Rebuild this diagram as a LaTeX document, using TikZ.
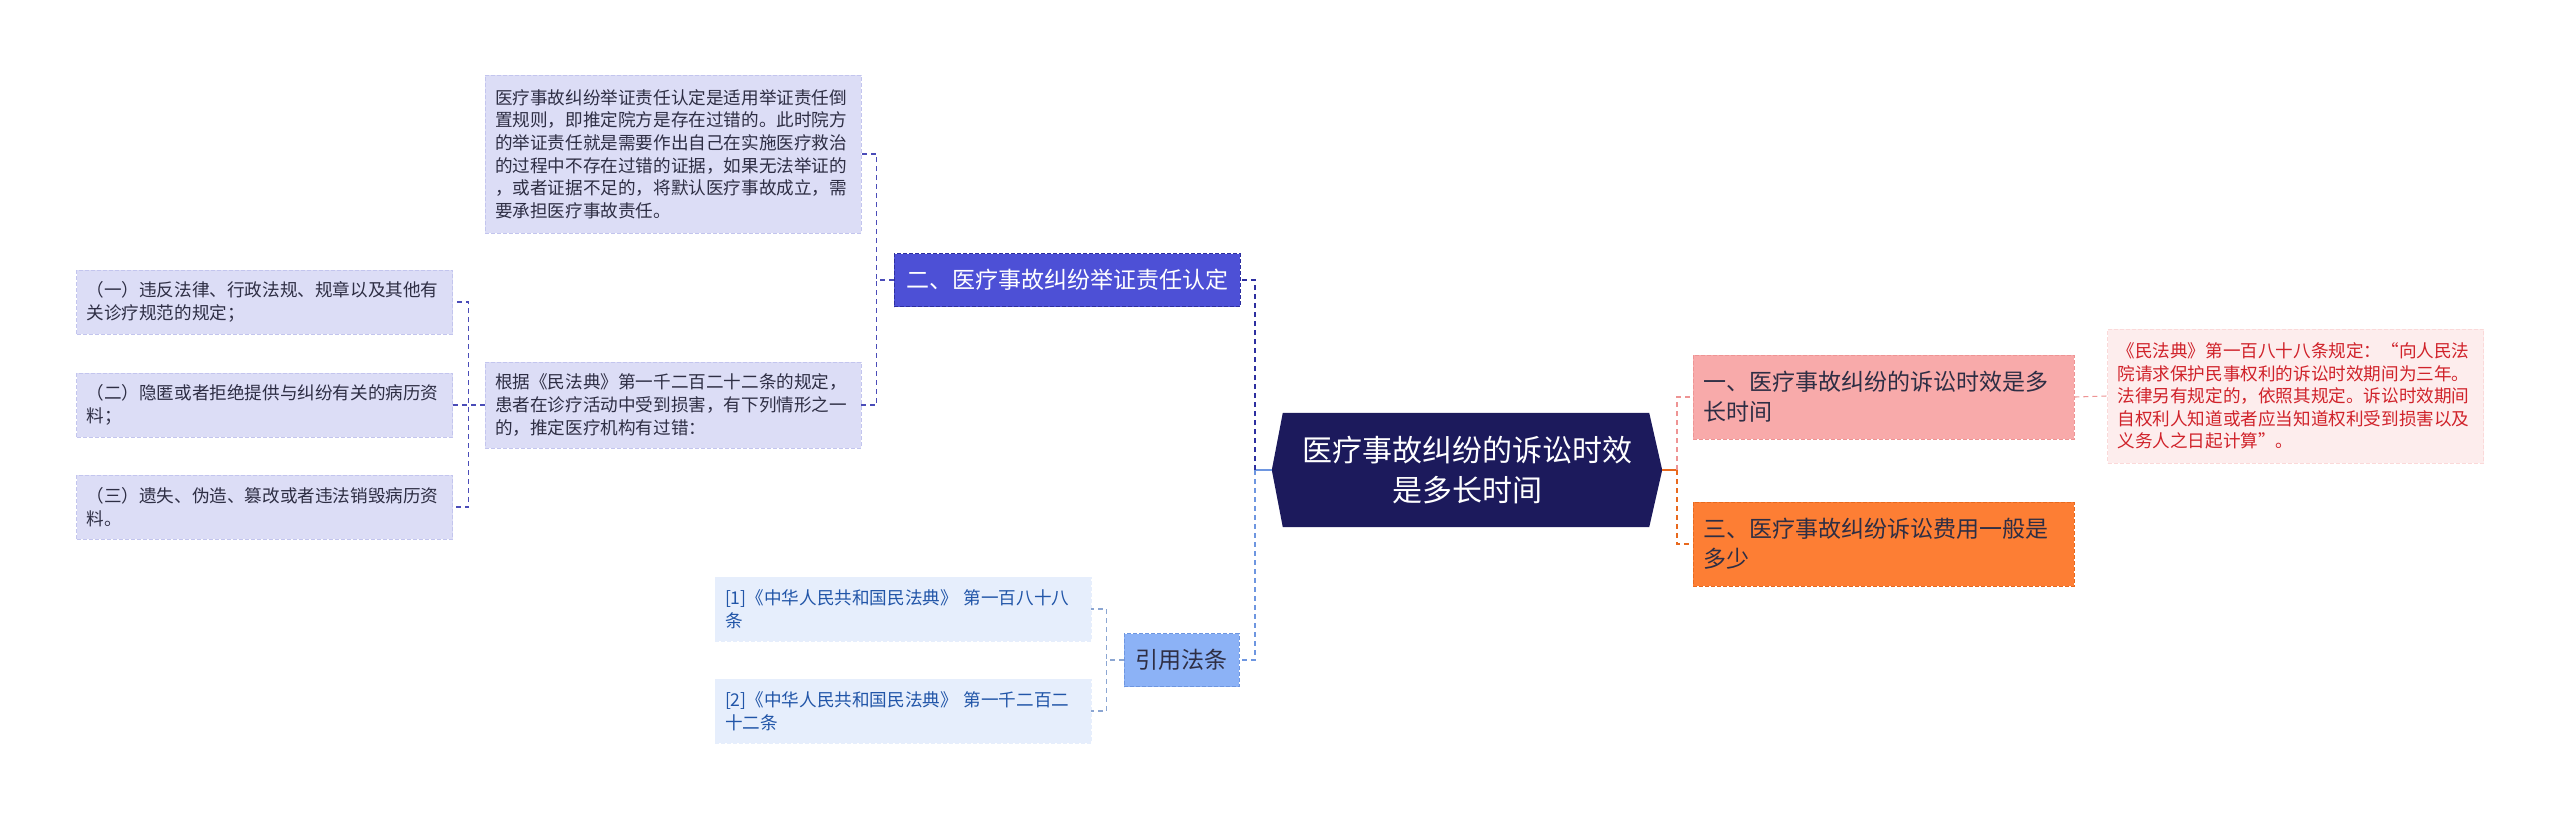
\documentclass[tikz,border=0pt]{standalone}
\usepackage{fontspec}
\setmainfont{Noto Sans CJK SC}
\usetikzlibrary{backgrounds}

\definecolor{navy}{HTML}{1C1A5C}
\definecolor{lav}{HTML}{DCDDF6}
\definecolor{lavline}{HTML}{C3C5EE}
\definecolor{lavlink}{HTML}{4A4CB8}
\definecolor{indigo}{HTML}{4D50D6}
\definecolor{indigoline}{HTML}{2D2FA0}
\definecolor{skyfill}{HTML}{8CB2F6}
\definecolor{skyline}{HTML}{6E96E0}
\definecolor{icefill}{HTML}{E6EEFC}
\definecolor{iceline}{HTML}{8CA6D2}
\definecolor{icetext}{HTML}{2155A8}
\definecolor{rosefill}{HTML}{F8AAAA}
\definecolor{roseline}{HTML}{EE9494}
\definecolor{blushfill}{HTML}{FDEDED}
\definecolor{notered}{HTML}{D0222A}
\definecolor{tangerine}{HTML}{FD7E34}
\definecolor{tangline}{HTML}{E8691E}
\definecolor{ink}{HTML}{2E2E44}

\tikzset{
  box/.style={rectangle, inner xsep=10pt, inner ysep=0pt, align=left,
    dash pattern=on 4pt off 2pt, line width=0.8pt},
  leaf/.style={box, text width=356pt, minimum height=#1,
    font=\fontsize{17.6}{22.6}\selectfont},
  topic/.style={box, text width=361pt, minimum height=#1, text=ink,
    font=\fontsize{23}{30}\selectfont},
  lnk/.style={dash pattern=on 5pt off 4pt, line width=1.6pt},
  thinlnk/.style={dash pattern=on 5pt off 4pt, line width=1.1pt},
}

\begin{document}
\begin{tikzpicture}[x=1pt, y=-1pt]

  \useasboundingbox (0,0) rectangle (2560,820);

  %--- Root ---
  \node[text=white, align=center, minimum width=390pt, minimum height=114pt,
        inner sep=0pt, font=\fontsize{30}{40}\selectfont]
        (root) at (1467,470) {医疗事故纠纷的诉讼时效\\是多长时间};
  \begin{scope}[on background layer]
    \fill[white] (0,0) rectangle (2560,820);
    \fill[navy] (root.west) -- ([xshift=11pt]root.north west)
      -- ([xshift=-13pt]root.north east) -- (root.east)
      -- ([xshift=-13pt]root.south east) -- ([xshift=11pt]root.south west) -- cycle;
  \end{scope}

  %--- Branch 2: burden of proof ---
  \node[box, fill=indigo, draw=indigoline, text=white, minimum width=346pt,
        minimum height=53pt, align=center, font=\fontsize{23}{30}\selectfont]
        (proof) at (1067,280) {二、医疗事故纠纷举证责任认定};
  \node[leaf=158pt, fill=lav, draw=lavline, text=ink] (proofnote) at (673,154)
        {医疗事故纠纷举证责任认定是适用举证责任倒\\
         置规则，即推定院方是存在过错的。此时院方\\
         的举证责任就是需要作出自己在实施医疗救治\\
         的过程中不存在过错的证据，如果无法举证的\\
         ，或者证据不足的，将默认医疗事故成立，需\\
         要承担医疗事故责任。};
  \node[leaf=86pt, fill=lav, draw=lavline, text=ink] (rule) at (673,405)
        {根据《民法典》第一千二百二十二条的规定，\\
         患者在诊疗活动中受到损害，有下列情形之一\\
         的，推定医疗机构有过错：};
  \node[leaf=64pt, fill=lav, draw=lavline, text=ink] (case1) at (264.5,302)
        {（一）违反法律、行政法规、规章以及其他有\\关诊疗规范的规定；};
  \node[leaf=64pt, fill=lav, draw=lavline, text=ink] (case2) at (264.5,405)
        {（二）隐匿或者拒绝提供与纠纷有关的病历资\\料；};
  \node[leaf=64pt, fill=lav, draw=lavline, text=ink] (case3) at (264.5,507)
        {（三）遗失、伪造、篡改或者违法销毁病历资\\料。};

  %--- Branch: cited articles ---
  \node[box, fill=skyfill, draw=skyline, text=ink, minimum width=115pt,
        minimum height=53pt, align=center, font=\fontsize{23}{30}\selectfont]
        (cite) at (1181.5,660) {引用法条};
  \node[leaf=64pt, fill=icefill, draw=icefill, text=icetext] (ref1) at (903,609)
        {[1]《中华人民共和国民法典》 第一百八十八\\条};
  \node[leaf=64pt, fill=icefill, draw=icefill, text=icetext] (ref2) at (903,711)
        {[2]《中华人民共和国民法典》 第一千二百二\\十二条};

  %--- Right side ---
  \node[topic=84pt, fill=rosefill, draw=roseline] (limit) at (1883.5,397)
        {一、医疗事故纠纷的诉讼时效是多\\长时间};
  \node[topic=84pt, fill=tangerine, draw=tangline] (cost) at (1883.5,544)
        {三、医疗事故纠纷诉讼费用一般是\\多少};
  \node[leaf=134pt, fill=blushfill, draw=blushfill!70!rosefill, text=notered]
        (limitnote) at (2295.5,396)
        {《民法典》第一百八十八条规定：“向人民法\\
         院请求保护民事权利的诉讼时效期间为三年。\\
         法律另有规定的，依照其规定。诉讼时效期间\\
         自权利人知道或者应当知道权利受到损害以及\\
         义务人之日起计算”。};

  %--- Connectors ---
  \draw[line width=1.6pt, skyline] (root.west) -- ++(-17,0);
  \draw[lnk, indigoline] (root.west) ++(-17,0) |- (proof.east);
  \draw[lnk, skyline] (root.west) ++(-17,0) |- (cite.east);
  \draw[line width=1.6pt, tangline] (root.east) -- ++(15,0);
  \draw[lnk, roseline] (root.east) ++(15,0) |- (limit.west);
  \draw[lnk, tangline] (root.east) ++(15,0) |- (cost.west);

  \draw[thinlnk, lavlink] (proof.west) -- ++(-17,0) |- (proofnote.east);
  \draw[thinlnk, lavlink] (proof.west) -- ++(-17,0) |- (rule.east);
  \foreach \c in {case1,case2,case3}
    \draw[thinlnk, lavlink] (rule.west) -- ++(-16,0) |- (\c.east);

  \draw[thinlnk, iceline] (cite.west) -- ++(-17,0) |- (ref1.east);
  \draw[thinlnk, iceline] (cite.west) -- ++(-17,0) |- (ref2.east);

  \draw[thinlnk, roseline] (limit.east) -- (limitnote.west);

\end{tikzpicture}
\end{document}
